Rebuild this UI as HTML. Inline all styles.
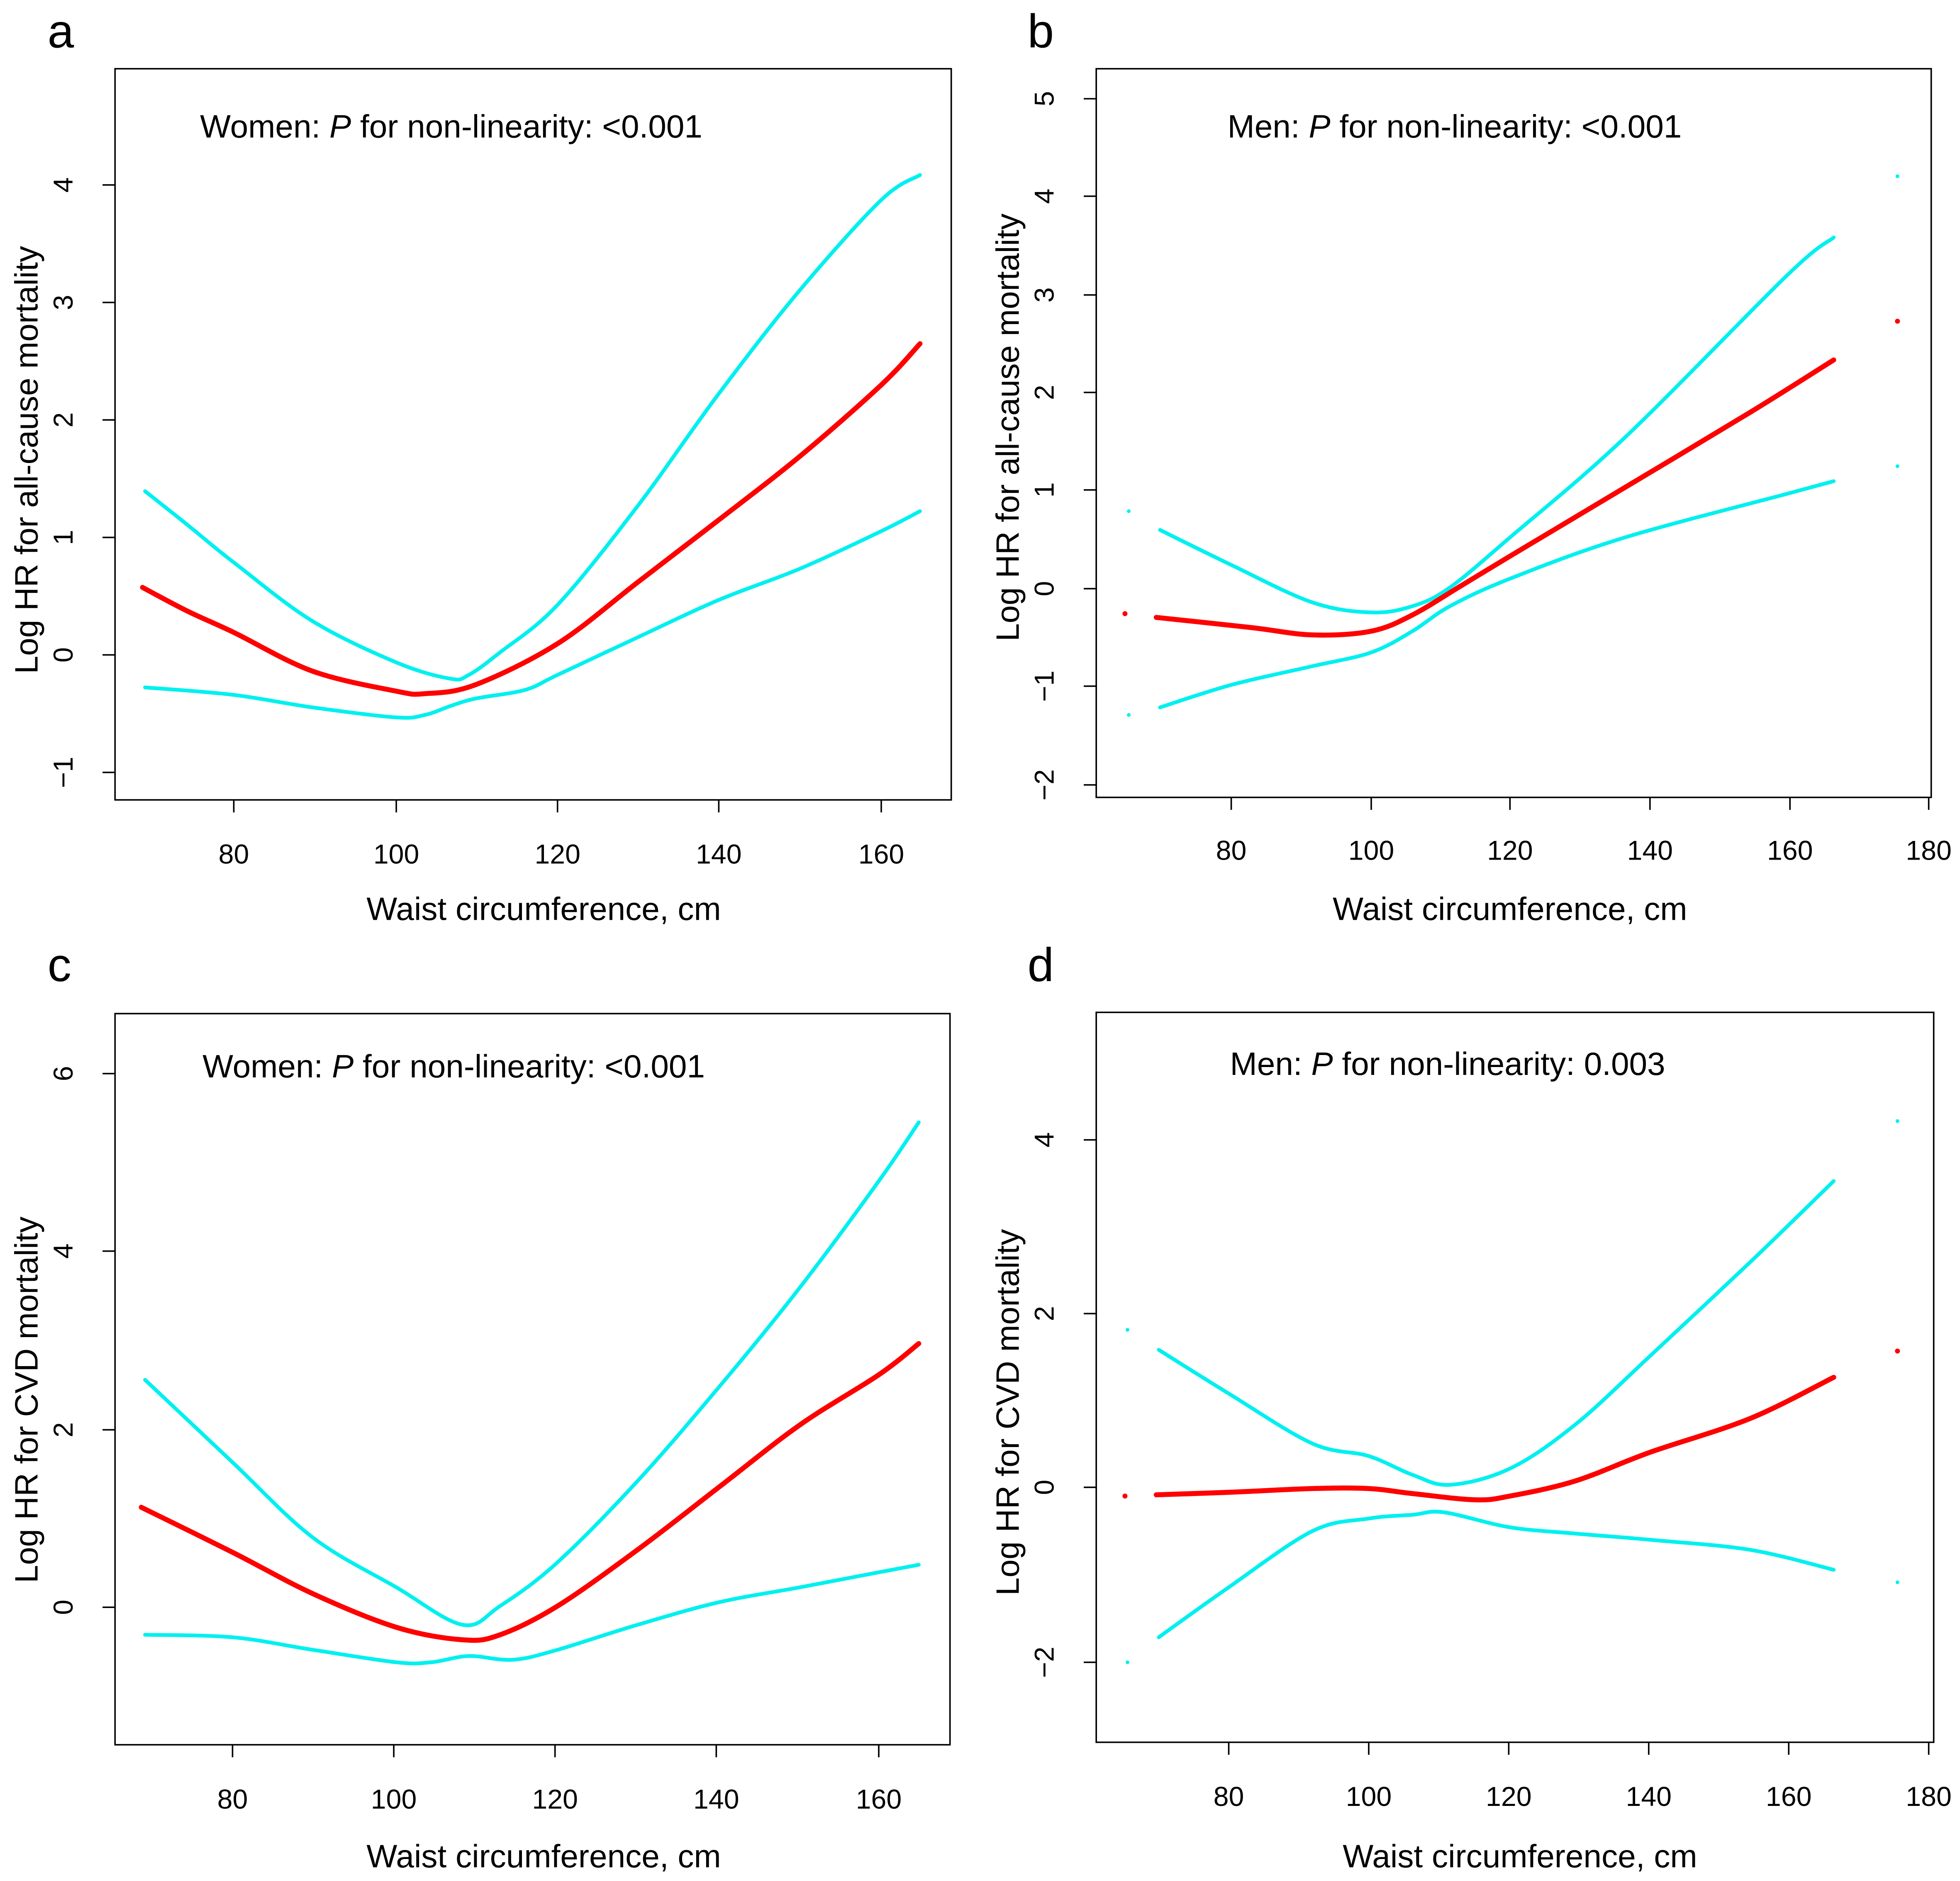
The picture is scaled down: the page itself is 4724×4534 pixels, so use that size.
<!DOCTYPE html>
<html><head><meta charset="utf-8"><style>
html,body{margin:0;padding:0;background:#fff}
svg{display:block}
text{font-family:"Liberation Sans",Arial,sans-serif;fill:#000}
</style></head><body>
<svg width="4724" height="4534" viewBox="0 0 1568 1505" xmlns="http://www.w3.org/2000/svg">
<g fill="none" stroke="#000" stroke-width="1.2">
<rect x="92" y="55" width="669" height="585"/>
<rect x="877" y="55" width="668" height="583"/>
<rect x="92" y="811" width="668" height="585"/>
<rect x="877" y="810" width="670" height="584"/>
<path d="M187 640v10M317 640v10M446 640v10M575 640v10M705 640v10"/>
<path d="M92 148h-10M92 242h-10M92 336h-10M92 430h-10M92 524h-10M92 618h-10"/>
<path d="M985 638v10M1097 638v10M1208 638v10M1320 638v10M1432 638v10M1543 638v10"/>
<path d="M877 79h-10M877 157h-10M877 236h-10M877 314h-10M877 392h-10M877 471h-10M877 549h-10M877 628h-10"/>
<path d="M186 1396v10M315 1396v10M444 1396v10M573 1396v10M703 1396v10"/>
<path d="M92 859h-10M92 1001h-10M92 1144h-10M92 1286h-10"/>
<path d="M983 1394v10M1095 1394v10M1207 1394v10M1319 1394v10M1431 1394v10M1543 1394v10"/>
<path d="M877 912h-10M877 1051h-10M877 1190h-10M877 1330h-10"/>
</g>
<g fill="none" stroke-linejoin="round" stroke-linecap="round" id="curves">
<polyline stroke="#00f0f0" stroke-width="3" points="116,393 150,420 187,450 250,497 317,530 360,543 375,540 400,522 446,484 510,405 575,315 640,232 705,160 736,140"/>
<polyline stroke="#00f0f0" stroke-width="3" points="116,550 187,556 250,566 317,574 340,572 360,565 380,559 420,552 446,540 510,510 575,480 640,455 705,425 736,409"/>
<polyline stroke="#ff0000" stroke-width="4" points="114,470 150,489 187,506 250,537 317,553 340,555 380,548 446,515 510,466 575,416 640,365 705,308 736,275"/>
<polyline stroke="#00f0f0" stroke-width="3" points="928,424 985,452 1050,482 1097,490 1130,485 1160,470 1208,430 1300,350 1430,220 1467,190"/>
<polyline stroke="#00f0f0" stroke-width="3" points="928,566 985,548 1050,533 1097,522 1130,505 1160,485 1208,463 1300,430 1430,395 1467,385"/>
<polyline stroke="#ff0000" stroke-width="4" points="925,494 1000,502 1050,508 1097,505 1130,492 1170,468 1208,445 1300,390 1400,330 1467,288"/>
<polyline stroke="#00f0f0" stroke-width="3" points="116,1104 186,1170 250,1230 317,1270 370,1300 400,1285 446,1250 510,1185 575,1110 640,1030 703,945 735,898"/>
<polyline stroke="#00f0f0" stroke-width="3" points="116,1308 186,1310 250,1320 317,1330 345,1330 375,1325 410,1328 446,1320 510,1300 575,1282 640,1270 703,1258 735,1252"/>
<polyline stroke="#ff0000" stroke-width="4" points="113,1206 186,1242 250,1275 317,1302 370,1312 400,1308 446,1285 510,1240 575,1190 640,1140 703,1100 735,1075"/>
<polyline stroke="#00f0f0" stroke-width="3" points="927,1080 983,1115 1050,1155 1095,1165 1130,1180 1160,1188 1208,1175 1260,1140 1320,1085 1400,1010 1467,945"/>
<polyline stroke="#00f0f0" stroke-width="3" points="927,1310 983,1270 1050,1225 1095,1215 1130,1212 1155,1210 1208,1222 1260,1227 1320,1232 1400,1240 1467,1256"/>
<polyline stroke="#ff0000" stroke-width="4" points="925,1196 983,1194 1050,1191 1095,1191 1130,1195 1180,1200 1208,1197 1260,1185 1320,1162 1400,1135 1467,1102"/>
</g>
<g>
<circle cx="903" cy="409" r="1.5" fill="#00f0f0"/><circle cx="903" cy="572" r="1.5" fill="#00f0f0"/>
<circle cx="1518" cy="141" r="1.5" fill="#00f0f0"/><circle cx="1518" cy="373" r="1.5" fill="#00f0f0"/>
<circle cx="900" cy="491" r="2" fill="#f00"/><circle cx="1518" cy="257" r="2" fill="#f00"/>
<circle cx="902" cy="1064" r="1.5" fill="#00f0f0"/><circle cx="902" cy="1330" r="1.5" fill="#00f0f0"/>
<circle cx="1518" cy="897" r="1.5" fill="#00f0f0"/><circle cx="1518" cy="1266" r="1.5" fill="#00f0f0"/>
<circle cx="900" cy="1197" r="2" fill="#f00"/><circle cx="1518" cy="1081" r="2" fill="#f00"/>
</g>
<g font-size="38"><text x="38" y="38">a</text><text x="822" y="38">b</text><text x="38" y="785">c</text><text x="822" y="785">d</text></g>
<g font-size="26">
<text x="160" y="110">Women: <tspan font-style="italic">P</tspan> for non-linearity: &lt;0.001</text>
<text x="982" y="110">Men: <tspan font-style="italic">P</tspan> for non-linearity: &lt;0.001</text>
<text x="162" y="862">Women:  <tspan font-style="italic">P</tspan> for non-linearity: &lt;0.001</text>
<text x="984" y="860">Men: <tspan font-style="italic">P</tspan> for non-linearity: 0.003</text>
<text x="435" y="736" text-anchor="middle">Waist circumference, cm</text>
<text x="1208" y="736" text-anchor="middle">Waist circumference, cm</text>
<text x="435" y="1494" text-anchor="middle">Waist circumference, cm</text>
<text x="1216" y="1494" text-anchor="middle">Waist circumference, cm</text>
<text transform="translate(30,368) rotate(-90)" text-anchor="middle">Log HR for all-cause mortality</text>
<text transform="translate(815,342) rotate(-90)" text-anchor="middle">Log HR for all-cause mortality</text>
<text transform="translate(30,1120) rotate(-90)" text-anchor="middle">Log HR for CVD mortality</text>
<text transform="translate(815,1130) rotate(-90)" text-anchor="middle">Log HR for CVD  mortality</text>
</g>
<g font-size="22" text-anchor="middle">
<text x="187" y="691">80</text><text x="317" y="691">100</text><text x="446" y="691">120</text><text x="575" y="691">140</text><text x="705" y="691">160</text>
<text x="985" y="688">80</text><text x="1097" y="688">100</text><text x="1208" y="688">120</text><text x="1320" y="688">140</text><text x="1432" y="688">160</text><text x="1543" y="688">180</text>
<text x="186" y="1447">80</text><text x="315" y="1447">100</text><text x="444" y="1447">120</text><text x="573" y="1447">140</text><text x="703" y="1447">160</text>
<text x="983" y="1445">80</text><text x="1095" y="1445">100</text><text x="1207" y="1445">120</text><text x="1319" y="1445">140</text><text x="1431" y="1445">160</text><text x="1543" y="1445">180</text>
<text transform="translate(58,148) rotate(-90)">4</text><text transform="translate(58,242) rotate(-90)">3</text><text transform="translate(58,336) rotate(-90)">2</text><text transform="translate(58,430) rotate(-90)">1</text><text transform="translate(58,524) rotate(-90)">0</text><text transform="translate(58,618) rotate(-90)">−1</text>
<text transform="translate(843,79) rotate(-90)">5</text><text transform="translate(843,157) rotate(-90)">4</text><text transform="translate(843,236) rotate(-90)">3</text><text transform="translate(843,314) rotate(-90)">2</text><text transform="translate(843,392) rotate(-90)">1</text><text transform="translate(843,471) rotate(-90)">0</text><text transform="translate(843,549) rotate(-90)">−1</text><text transform="translate(843,628) rotate(-90)">−2</text>
<text transform="translate(58,859) rotate(-90)">6</text><text transform="translate(58,1001) rotate(-90)">4</text><text transform="translate(58,1144) rotate(-90)">2</text><text transform="translate(58,1286) rotate(-90)">0</text>
<text transform="translate(843,912) rotate(-90)">4</text><text transform="translate(843,1051) rotate(-90)">2</text><text transform="translate(843,1190) rotate(-90)">0</text><text transform="translate(843,1330) rotate(-90)">−2</text>
</g>
</svg>
<script>
(function(){
var ns="http://www.w3.org/2000/svg";
var pls=document.querySelectorAll('#curves polyline');
for(var k=0;k<pls.length;k++){
var pl=pls[k];
var p=pl.getAttribute('points').trim().split(/\s+/).map(function(s){var a=s.split(',');return [+a[0],+a[1]];});
var d='M'+p[0][0]+' '+p[0][1];
for(var i=0;i<p.length-1;i++){
var p0=p[i>0?i-1:i],p1=p[i],p2=p[i+1],p3=p[i+2<p.length?i+2:i+1];
var c1x=p1[0]+(p2[0]-p0[0])/6,c1y=p1[1]+(p2[1]-p0[1])/6;
var c2x=p2[0]-(p3[0]-p1[0])/6,c2y=p2[1]-(p3[1]-p1[1])/6;
d+=' C'+c1x.toFixed(1)+' '+c1y.toFixed(1)+' '+c2x.toFixed(1)+' '+c2y.toFixed(1)+' '+p2[0]+' '+p2[1];
}
var path=document.createElementNS(ns,'path');
path.setAttribute('d',d);
path.setAttribute('stroke',pl.getAttribute('stroke'));
path.setAttribute('stroke-width',pl.getAttribute('stroke-width'));
pl.parentNode.replaceChild(path,pl);
}
})();
</script>
</body></html>
